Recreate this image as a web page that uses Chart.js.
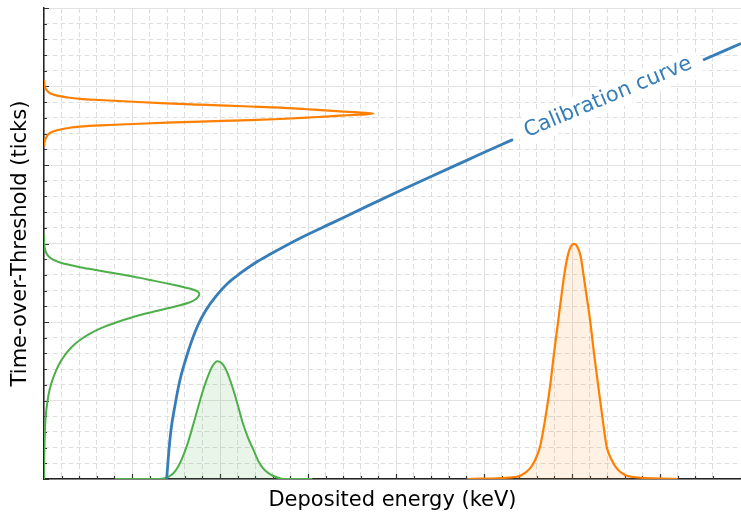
<!DOCTYPE html>
<html>
<head>
<meta charset="utf-8">
<title>ToT calibration</title>
<script src="https://cdn.jsdelivr.net/npm/chart.js@4.4.1/dist/chart.umd.min.js"></script>
<style>
  html, body { margin: 0; padding: 0; background: #fff; }
</style>
</head>
<body>
<canvas id="totChart" width="741" height="513"></canvas>
<script>
// calibration curve: ToT vs deposited energy (null = break for the inline label)
const calEnergy = [13.94, 14.15, 14.43, 14.89, 15.45, 16.08, 16.70, 17.50, 18.41, 19.55, 20.91, 22.27, 23.98, 25.68, 29.09, 32.88, 36.67, 40.45, 44.24, 48.03, 51.82, 53.30, 64.0, 74.89, 79.20];
const calToT    = [0, 3.06, 6.24, 9.43, 12.61, 15.16, 17.32, 19.62, 21.53, 23.31, 24.97, 26.18, 27.52, 28.62, 30.67, 32.69, 34.73, 36.72, 38.67, 40.59, 42.52, 43.25, null, 53.38, 55.48];

// low energy line (green) - energy spectrum
const lowEnergy = [8.07, 13.2, 14.0, 14.7, 15.25, 15.8, 16.4, 17.0, 17.55, 18.1, 18.6, 19.1, 19.7, 20.15, 20.6, 21.05, 21.5, 22.05, 22.6, 23.2, 23.8, 24.35, 24.9, 25.5, 26.1, 27.2, 30.5];
const lowCounts = [0, 0, 0.2, 0.73, 1.6, 2.9, 4.8, 7.1, 9.3, 11.4, 13.0, 14.3, 15.0, 14.8, 14.1, 12.9, 11.4, 9.3, 7.1, 5.2, 3.7, 2.3, 1.36, 0.75, 0.38, 0, 0];

// high energy line (orange) - energy spectrum
const highEnergy = [48.1, 53.71, 54.28, 55.23, 55.80, 56.36, 56.93, 57.50, 57.95, 58.44, 58.83, 59.20, 59.58, 59.85, 60.23, 60.60, 60.99, 61.28, 61.67, 62.05, 62.50, 62.99, 63.49, 63.94, 64.51, 65.08, 66.02, 66.78, 72.0];
const highCounts = [0, 0.29, 0.51, 1.36, 2.42, 4.11, 7.52, 11.76, 16.01, 20.25, 23.65, 26.62, 28.75, 29.59, 29.94, 29.59, 28.32, 26.20, 23.22, 20.25, 16.01, 11.76, 7.52, 4.11, 2.42, 1.36, 0.51, 0.29, 0];

// the same lines seen on the ToT axis, ordered by ToT (counts grow to the right)
const lowTot = [0, 2.42, 5.22, 7.77, 9.81, 11.59, 13.18, 14.59, 15.80, 16.84, 17.71, 18.52, 19.16, 19.97, 20.64, 21.20, 21.71, 22.13, 22.51, 22.93, 23.57,
                23.92, 24.18, 24.34, 24.64, 24.92, 25.27, 25.62, 26.01, 26.38, 26.68, 26.98, 27.25, 27.58, 27.95, 28.37, 28.85, 29.43, 30.06, 31.08];
const lowTotCounts = [0, 0.02, 0.08, 0.18, 0.38, 0.68, 1.14, 1.70, 2.39, 3.18, 4.09, 5.23, 6.36, 8.26, 10.15, 12.05, 13.94, 15.45, 16.59, 17.27, 17.65,
                      17.39, 16.82, 16.22, 15.08, 13.94, 12.42, 10.91, 9.01, 7.13, 5.60, 4.09, 2.95, 1.82, 1.02, 0.51, 0.23, 0.09, 0.02, 0];

const highTot = [42.42, 43.18, 43.69, 44.08, 44.42, 44.68, 44.90, 45.06, 45.22, 45.39, 45.53, 45.71, 45.86, 46.03, 46.17, 46.28, 46.38, 46.45, 46.56,
                 46.65, 46.73, 46.84, 46.97, 47.10, 47.30, 47.45, 47.69, 47.86, 48.06, 48.28, 48.43, 48.62, 48.83, 49.13, 49.49, 49.90, 50.83];
const highTotCounts = [0, 0.11, 0.34, 0.68, 1.48, 2.58, 4.09, 6.36, 10.11, 13.94, 17.73, 23.41, 26.82, 29.85, 31.93, 33.64, 35.34, 36.48, 37.42,
                       36.48, 35.34, 33.64, 31.93, 29.85, 26.82, 23.41, 17.73, 13.94, 10.11, 6.36, 4.09, 2.58, 1.48, 0.68, 0.34, 0.11, 0];

const labelText = 'Calibration curve';
const labelAt = { x: 64.1, y: 48.6 };

const BLUE = '#377eb8';
const GREEN = '#4daf4a';
const ORANGE = '#ff7f00';

const pts = (xs, ys) => xs.map((v, i) => ({ x: v, y: ys[i] }));
const isMajor = v => Math.abs(v % 10) < 1e-6;

Chart.defaults.font.family = '"DejaVu Sans", sans-serif';
Chart.defaults.color = '#000';

// tick marks pointing into the plot, longer on every 10
const innerTicks = {
    id: 'innerTicks',
    beforeDatasetsDraw(chart) {
        const { ctx, chartArea: a, scales: { x, y } } = chart;
        ctx.save();
        ctx.strokeStyle = '#333';
        ctx.lineWidth = 1.2;
        ctx.beginPath();
        x.ticks.forEach(t => {
            const px = Math.round(x.getPixelForValue(t.value)) + 0.5;
            const len = isMajor(t.value) ? 5 : 3;
            ctx.moveTo(px, a.bottom);
            ctx.lineTo(px, a.bottom - len);
        });
        y.ticks.forEach(t => {
            const py = Math.round(y.getPixelForValue(t.value)) + 0.5;
            const len = isMajor(t.value) ? 5 : 3;
            ctx.moveTo(a.left, py);
            ctx.lineTo(a.left + len, py);
        });
        ctx.stroke();
        ctx.restore();
    }
};

// inline label along the calibration curve, on a white patch
const curveLabel = {
    id: 'curveLabel',
    afterDatasetsDraw(chart) {
        const { ctx, scales: { x, y } } = chart;
        const gap = calToT.indexOf(null);
        const x0 = x.getPixelForValue(calEnergy[gap - 1]), y0 = y.getPixelForValue(calToT[gap - 1]);
        const x1 = x.getPixelForValue(calEnergy[gap + 1]), y1 = y.getPixelForValue(calToT[gap + 1]);
        const angle = Math.atan2(y1 - y0, x1 - x0);
        ctx.save();
        ctx.translate(x.getPixelForValue(labelAt.x), y.getPixelForValue(labelAt.y));
        ctx.rotate(angle);
        ctx.font = '21px "DejaVu Sans"';
        const w = ctx.measureText(labelText).width;
        ctx.fillStyle = '#fff';
        ctx.fillRect(-w / 2 - 8, -14, w + 16, 28);
        ctx.fillStyle = BLUE;
        ctx.textAlign = 'center';
        ctx.textBaseline = 'middle';
        ctx.fillText(labelText, 0, 0);
        ctx.restore();
    }
};

const gridOpts = {
    color: c => (c.tick && isMajor(c.tick.value)) ? '#e2e2e2' : '#dedede',
    lineWidth: 1,
    drawTicks: false
};
const borderOpts = {
    display: true,
    color: '#222',
    width: 1.5,
    dash: c => (c.tick && !isMajor(c.tick.value)) ? [5, 3] : []
};

new Chart(document.getElementById('totChart'), {
    type: 'line',
    data: {
        datasets: [
            {
                data: pts(calEnergy, calToT),
                borderColor: BLUE,
                borderWidth: 2.8,
                cubicInterpolationMode: 'monotone',
                fill: false
            },
            {
                data: pts(lowEnergy, lowCounts),
                borderColor: GREEN,
                backgroundColor: 'rgba(77, 175, 74, 0.12)',
                borderWidth: 2,
                cubicInterpolationMode: 'monotone',
                fill: 'origin'
            },
            {
                data: pts(highEnergy, highCounts),
                borderColor: ORANGE,
                backgroundColor: 'rgba(255, 127, 0, 0.11)',
                borderWidth: 2.2,
                cubicInterpolationMode: 'monotone',
                fill: 'origin'
            },
            {
                // ToT is the index axis here, so the spline runs along y
                indexAxis: 'y',
                data: pts(lowTotCounts, lowTot),
                borderColor: GREEN,
                borderWidth: 2,
                cubicInterpolationMode: 'monotone',
                fill: false
            },
            {
                indexAxis: 'y',
                data: pts(highTotCounts, highTot),
                borderColor: ORANGE,
                borderWidth: 2.2,
                cubicInterpolationMode: 'monotone',
                fill: false
            }
        ]
    },
    options: {
        responsive: false,
        animation: false,
        devicePixelRatio: 1,
        layout: { padding: { left: 0, top: 8, right: 0, bottom: 0 } },
        elements: { point: { radius: 0 } },
        plugins: {
            legend: { display: false },
            tooltip: { enabled: false }
        },
        scales: {
            x: {
                type: 'linear',
                min: 0,
                max: 79.2,
                ticks: { display: false, stepSize: 2 },
                grid: gridOpts,
                border: borderOpts,
                title: {
                    display: true,
                    text: 'Deposited energy (keV)',
                    font: { size: 21 },
                    color: '#000',
                    padding: { top: 8.8, bottom: 0 }
                }
            },
            y: {
                type: 'linear',
                min: 0,
                max: 60,
                ticks: { display: false, stepSize: 2 },
                grid: gridOpts,
                border: borderOpts,
                title: {
                    display: true,
                    text: 'Time-over-Threshold (ticks)',
                    font: { size: 21 },
                    color: '#000',
                    padding: { top: 8.4, bottom: 10.4 }
                }
            }
        }
    },
    plugins: [innerTicks, curveLabel]
});
</script>
</body>
</html>
